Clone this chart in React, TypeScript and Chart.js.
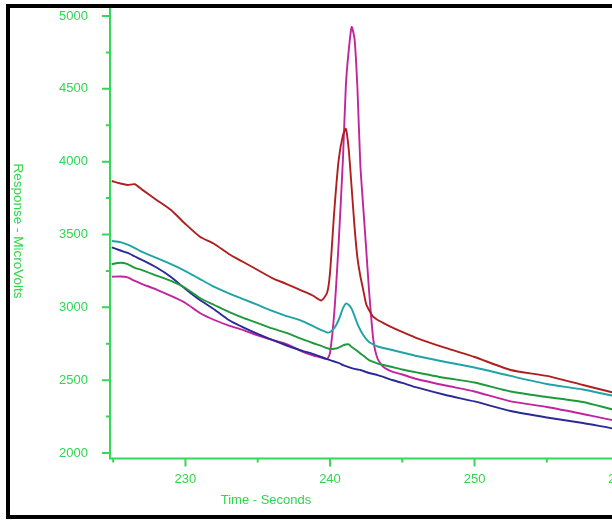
import React, { useEffect, useRef } from 'react';
import { Chart, registerables } from 'chart.js';

Chart.register(...registerables);

// ---- data ----
const times = [
  224.9, 225.5, 226, 226.5, 227, 228, 229, 230, 231, 232,
  233, 234, 235, 236, 237, 238, 238.8, 239.4, 239.8, 240,
  240.3, 240.6, 240.9, 241.1, 241.3, 241.5, 241.7, 241.9, 242.1, 242.3,
  242.5, 242.7, 243, 243.3, 243.7, 244.3, 245, 246, 248, 250,
  252.5, 255, 257.5, 260, 261,
];

const redValues = [
  3867, 3850, 3840, 3845, 3808, 3737, 3668, 3572, 3485, 3435,
  3366, 3311, 3256, 3201, 3160, 3116, 3081, 3047, 3100, 3235,
  3665, 4011, 4183, 4225, 4080, 3819, 3551, 3339, 3215, 3119,
  3023, 2982, 2934, 2913, 2892, 2862, 2831, 2789, 2721, 2659,
  2570, 2529, 2467, 2405, 2384,
];

const tealValues = [
  3455, 3448, 3431, 3407, 3380, 3339, 3297, 3249, 3194, 3140,
  3096, 3057, 3016, 2975, 2940, 2909, 2872, 2844, 2827, 2831,
  2858, 2913, 2995, 3026, 3016, 2989, 2940, 2886, 2844, 2810,
  2783, 2762, 2745, 2731, 2721, 2707, 2690, 2666, 2625, 2587,
  2529, 2474, 2436, 2384, 2371,
];

const greenValues = [
  3297, 3306, 3297, 3270, 3256, 3218, 3181, 3133, 3064, 3016,
  2968, 2927, 2892, 2855, 2824, 2785, 2755, 2735, 2720, 2714,
  2716, 2724, 2738, 2745, 2745, 2728, 2714, 2700, 2683, 2669,
  2652, 2638, 2625, 2614, 2604, 2590, 2573, 2553, 2515, 2484,
  2422, 2384, 2350, 2288, 2275,
];

const blueValues = [
  3412, 3390, 3373, 3349, 3325, 3273, 3208, 3126, 3050, 2985,
  2913, 2862, 2817, 2776, 2738, 2704, 2680, 2659, 2645, 2638,
  2628, 2618, 2604, 2597, 2590, 2583, 2577, 2573, 2570, 2563,
  2556, 2549, 2542, 2535, 2522, 2501, 2481, 2450, 2398, 2354,
  2288, 2244, 2206, 2161, 2151,
];

const magentaValues = [
  3210, 3212, 3205, 3181, 3160, 3122, 3078, 3030, 2961, 2913,
  2875, 2844, 2807, 2776, 2748, 2700, 2670, 2655, 2645, 2686,
  2968, 3442, 4025, 4526, 4767, 4925, 4843, 4500, 3977, 3689,
  3407, 3119, 2776, 2645, 2590, 2559, 2539, 2508, 2463, 2422,
  2354, 2316, 2268, 2216, 2203,
];

const seriesNames = ['Run 1', 'Run 2', 'Run 3', 'Run 4', 'Run 5'];
const seriesColors = ['#b01f1f', '#1fa3a6', '#1e9a3c', '#2a2a96', '#c2249e'];

const xTickValues = [230, 240, 250, 260];
const xMinorTickValues = [225, 235, 245, 255];
const yTickValues = [2000, 2500, 3000, 3500, 4000, 4500, 5000];
const yMinorTickValues = [2250, 2750, 3250, 3750, 4250, 4750];

const xTitle = 'Time - Seconds';
const yTitle = 'Response - MicroVolts';

const AXIS_GREEN = '#33d955';
const TEXT_GREEN = '#2fd64f';
const FONT_FAMILY = '"Liberation Sans", Arial, sans-serif';

const axesPlugin = {
  id: 'greenAxes',
  afterDraw(chart: any) {
    const { ctx, chartArea, scales } = chart;
    const xs = scales.x;
    const ys = scales.y;
    const left = chartArea.left;
    const bottom = chartArea.bottom;
    ctx.save();
    ctx.strokeStyle = AXIS_GREEN;
    ctx.lineWidth = 2;
    ctx.beginPath();
    ctx.moveTo(left, chartArea.top);
    ctx.lineTo(left, bottom);
    ctx.moveTo(left - 1, bottom);
    ctx.lineTo(chartArea.right, bottom);
    yTickValues.forEach((v) => {
      const p = ys.getPixelForValue(v);
      ctx.moveTo(left - 8, p);
      ctx.lineTo(left, p);
    });
    yMinorTickValues.forEach((v) => {
      const p = ys.getPixelForValue(v);
      ctx.moveTo(left - 4, p);
      ctx.lineTo(left, p);
    });
    xTickValues.forEach((v) => {
      const p = xs.getPixelForValue(v);
      ctx.moveTo(p, bottom);
      ctx.lineTo(p, bottom + 8);
    });
    xMinorTickValues.forEach((v) => {
      const p = xs.getPixelForValue(v);
      ctx.moveTo(p, bottom);
      ctx.lineTo(p, bottom + 4);
    });
    ctx.stroke();

    ctx.fillStyle = TEXT_GREEN;
    ctx.font = `13px ${FONT_FAMILY}`;
    ctx.textAlign = 'center';
    ctx.textBaseline = 'middle';
    ctx.fillText(xTitle, left + 156, bottom + 41.5);

    ctx.translate(8, 223);
    ctx.rotate(Math.PI / 2);
    ctx.font = `13.5px ${FONT_FAMILY}`;
    ctx.fillText(yTitle, 0, 0);
    ctx.restore();
  },
};

export default function App() {
  const canvasRef = useRef<HTMLCanvasElement | null>(null);

  useEffect(() => {
    if (!canvasRef.current) return;
    const allSeries = [redValues, tealValues, greenValues, blueValues, magentaValues];
    const chart = new Chart(canvasRef.current, {
      type: 'line',
      data: {
        datasets: allSeries.map((vals, i) => ({
          label: seriesNames[i],
          data: vals.map((v, k) => ({ x: times[k], y: v })),
          borderColor: seriesColors[i],
          backgroundColor: seriesColors[i],
          borderWidth: 1.9,
          pointRadius: 0,
          tension: 0.2,
          fill: false,
        })),
      },
      options: {
        animation: false,
        responsive: false,
        maintainAspectRatio: false,
        layout: { padding: 0 },
        plugins: {
          legend: { display: false },
          tooltip: { enabled: false },
        },
        scales: {
          x: {
            type: 'linear',
            min: 224.78,
            max: 265.6,
            grid: { display: false },
            border: { display: false },
            afterBuildTicks: (s: any) => {
              s.ticks = xTickValues.map((v) => ({ value: v }));
            },
            afterFit: (s: any) => {
              s.height = 56.5;
              s.paddingLeft = 0;
              s.paddingRight = 0;
              s.paddingTop = 0;
              s.paddingBottom = 0;
            },
            ticks: {
              color: TEXT_GREEN,
              font: { size: 13, family: FONT_FAMILY },
              padding: 5,
              maxRotation: 0,
              autoSkip: false,
              callback: (v: any) => String(v),
            },
          },
          y: {
            type: 'linear',
            min: 1962.2,
            max: 5054.8,
            grid: { display: false },
            border: { display: false },
            afterBuildTicks: (s: any) => {
              s.ticks = yTickValues.map((v) => ({ value: v }));
            },
            afterFit: (s: any) => {
              s.width = 100;
              s.paddingLeft = 0;
              s.paddingRight = 0;
              s.paddingTop = 0;
              s.paddingBottom = 0;
            },
            ticks: {
              color: TEXT_GREEN,
              font: { size: 13, family: FONT_FAMILY },
              padding: 14,
              autoSkip: false,
              callback: (v: any) => String(v),
            },
          },
        },
      } as any,
      plugins: [axesPlugin],
    });
    return () => chart.destroy();
  }, []);

  return (
    <div
      style={{
        position: 'fixed',
        left: 0,
        top: 0,
        width: 612,
        height: 520,
        overflow: 'hidden',
        background: '#ffffff',
      }}
    >
      <div
        style={{
          position: 'absolute',
          left: 6,
          top: 4,
          width: 760,
          height: 515,
          boxSizing: 'border-box',
          border: '4px solid #000',
        }}
      />
      <canvas
        ref={canvasRef}
        width={690}
        height={507}
        style={{ position: 'absolute', left: 10, top: 8, width: 690, height: 507 }}
      />
    </div>
  );
}
